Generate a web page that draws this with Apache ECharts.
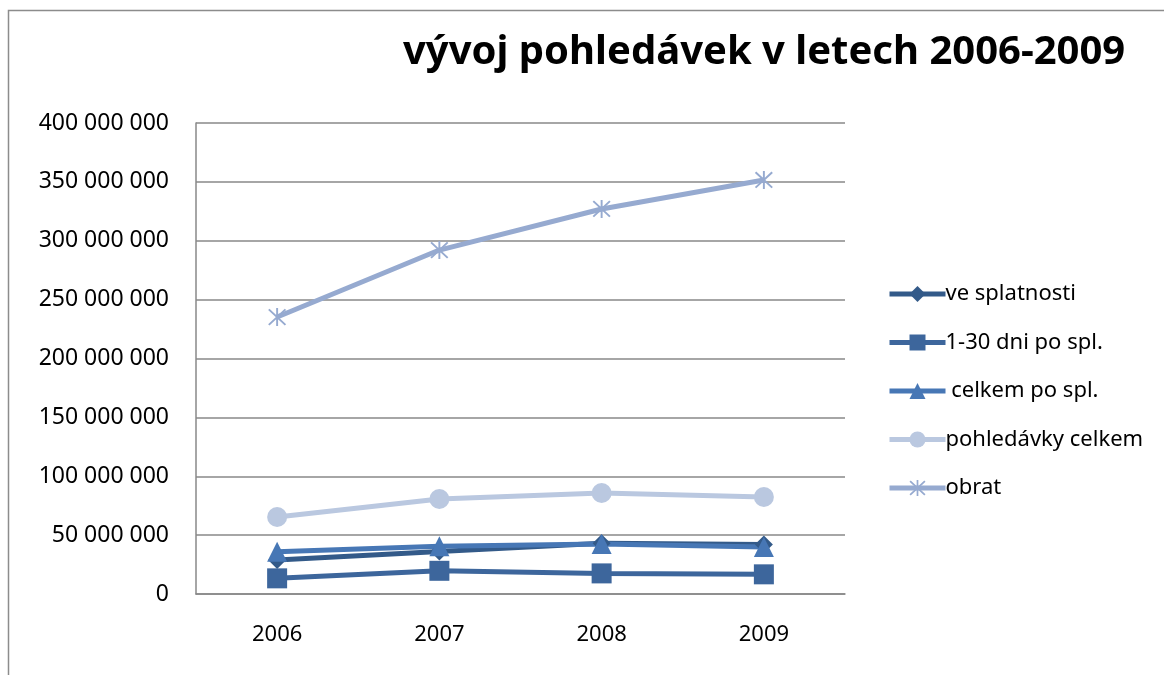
<!DOCTYPE html>
<html>
<head>
<meta charset="utf-8">
<script src="https://cdn.jsdelivr.net/npm/echarts@6/dist/echarts.min.js"></script>
<style>
  html, body { margin: 0; padding: 0; background: #fff; }
  #chart { width: 1164px; height: 675px; }
</style>
</head>
<body>
<div id="chart"></div>
<script>
const years = ["2006", "2007", "2008", "2009"];
const veSplatnosti = [28800000, 36000000, 43000000, 42000000];
const dni1to30 = [13300000, 19700000, 17500000, 16700000];
const celkemPoSpl = [35800000, 40500000, 42400000, 40000000];
const pohledavkyCelkem = [65400000, 80700000, 85800000, 82400000];
const obrat = [235200000, 292100000, 327000000, 351600000];

const asterisk =
  "path://M9 0h2v20h-2z M0.7 2.1 L2.1 0.7 L19.3 17.9 L17.9 19.3z M17.9 0.7 L19.3 2.1 L2.1 19.3 L0.7 17.9z";

const font = "Noto Sans";

const formatNum = (v) => String(v).replace(/\B(?=(\d{3})+(?!\d))/g, " ");

const chart = echarts.init(document.getElementById("chart"));

const makeSeries = (name, data, color, symbol, size) => ({
  name,
  type: "line",
  data,
  symbol,
  symbolSize: size,
  lineStyle: { color, width: 5 },
  itemStyle: { color },
  animation: false,
});

chart.setOption({
  backgroundColor: "#fff",
  textStyle: { fontFamily: font },
  title: {
    text: "vývoj pohledávek v letech 2006-2009",
    left: 398,
    top: 28,
    textStyle: { fontFamily: font, fontSize: 40, fontWeight: "bold", color: "#000" },
  },
  graphic: [
    {
      type: "rect",
      shape: { x: 8.5, y: 10.5, width: 1200, height: 700 },
      style: { fill: "none", stroke: "#8c8c8c", lineWidth: 1.5 },
      silent: true,
    },
  ],
  legend: {
    orient: "vertical",
    left: 882,
    top: 278,
    itemWidth: 56,
    itemHeight: 20,
    itemGap: 26.5,
    lineStyle: { width: 5 },
    textStyle: { fontFamily: font, fontSize: 22, color: "#000", padding: [0, 0, 0, -5] },
    data: ["ve splatnosti", "1-30 dni po spl.", " celkem po spl.", "pohledávky celkem", "obrat"],
  },
  grid: { left: 196, right: 319, top: 123, bottom: 81 },
  xAxis: {
    type: "category",
    data: years,
    boundaryGap: true,
    axisLine: { lineStyle: { color: "#888", width: 1.5 } },
    axisTick: { show: false },
    axisLabel: { color: "#000", fontSize: 22, margin: 30, fontFamily: font },
  },
  yAxis: {
    type: "value",
    min: 0,
    max: 400000000,
    interval: 50000000,
    axisLine: { show: true, lineStyle: { color: "#888", width: 1.5 } },
    axisTick: { show: false },
    splitLine: { lineStyle: { color: "#888", width: 1.5 } },
    axisLabel: { color: "#000", fontSize: 23, margin: 27, fontFamily: font, formatter: formatNum },
  },
  series: [
    makeSeries("ve splatnosti", veSplatnosti, "#335a89", "diamond", 18),
    makeSeries("1-30 dni po spl.", dni1to30, "#3d669c", "rect", 20),
    makeSeries(" celkem po spl.", celkemPoSpl, "#4777b5", "triangle", 20),
    makeSeries("pohledávky celkem", pohledavkyCelkem, "#bac8e0", "circle", 20),
    makeSeries("obrat", obrat, "#96aad0", asterisk, 18),
  ],
});
</script>
</body>
</html>
